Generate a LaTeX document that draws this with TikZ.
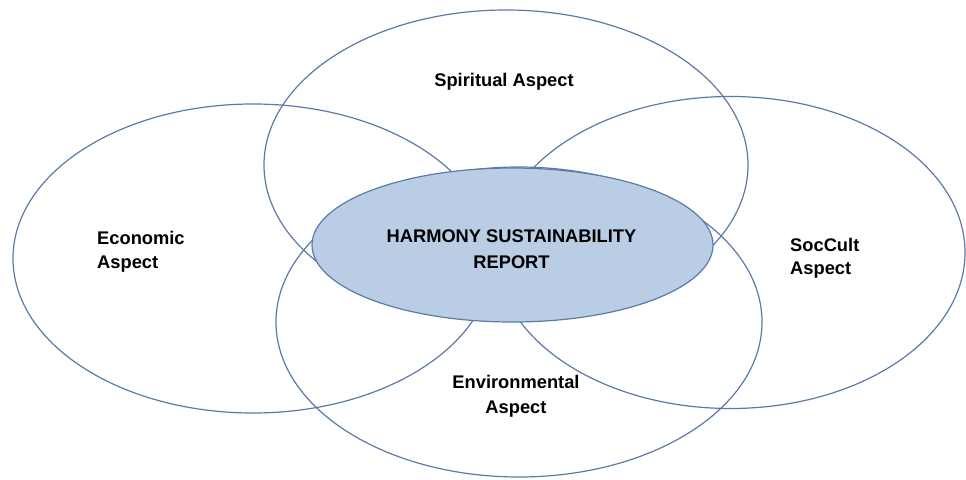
\documentclass[tikz,border=0pt]{standalone}
\usepackage{fontspec}
\setmainfont{Liberation Sans}
\usetikzlibrary{shapes.geometric}
\definecolor{rim}{HTML}{5A7BA6}
\definecolor{core}{HTML}{B9CDE5}
\begin{document}
\begin{tikzpicture}[x=1pt,y=-1pt,
  aspect/.style={ellipse,draw=rim,line width=1.2pt,inner sep=0pt},
  lbl/.style={font=\bfseries\fontsize{18.3}{24}\selectfont,text=black,inner sep=0pt}]
  \useasboundingbox (0,0) rectangle (966,479);
  % the four aspect ellipses
  \node[aspect,minimum width=480,minimum height=309] (eco) at (253,258.5) {};
  \node[aspect,minimum width=484,minimum height=310] (spi) at (506,165) {};
  \node[aspect,minimum width=469,minimum height=312] (soc) at (730.5,252.5) {};
  \node[aspect,minimum width=486,minimum height=310] (env) at (519,322) {};
  % central report ellipse
  \node[aspect,fill=core,minimum width=401,minimum height=154] (core) at (512.5,245) {};
  % labels
  \node[lbl,anchor=north] (tspi) at (504,73.5) {Spiritual Aspect};
  \node[lbl,align=left,anchor=north west] (teco) at (97,231.5) {Economic\\Aspect};
  \node[lbl,align=left,anchor=north west,font=\bfseries\fontsize{18.3}{23.5}\selectfont] (tsoc) at (790,238) {SocCult\\Aspect};
  \node[lbl,align=center,anchor=north,font=\bfseries\fontsize{18.3}{25}\selectfont] (tenv) at (516,375) {Environmental\\Aspect};
  \node[lbl,align=center,anchor=north,font=\bfseries\fontsize{18.3}{26}\selectfont] (tcore) at (511.5,230) {HARMONY SUSTAINABILITY\\REPORT};
\end{tikzpicture}
\end{document}
